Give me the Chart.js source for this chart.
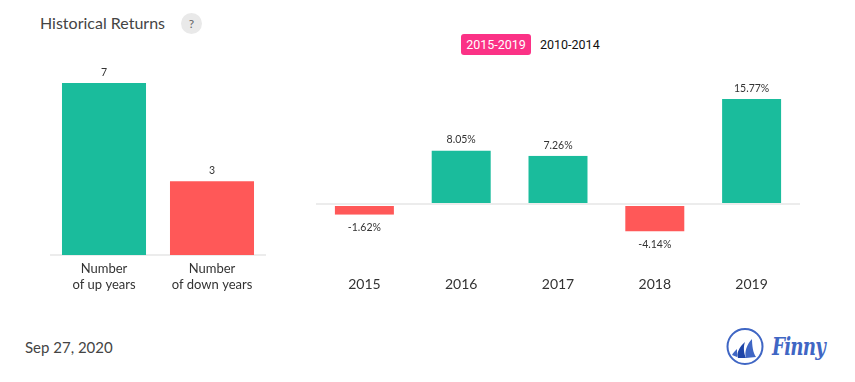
<!DOCTYPE html>
<html>
<head>
<meta charset="utf-8">
<script src="https://cdn.jsdelivr.net/npm/chart.js@4"></script>
<style>
  html, body { margin: 0; padding: 0; background: #fff; }
  body { width: 855px; height: 382px; position: relative; overflow: hidden; font-family: Lato, sans-serif; }
  .abs { position: absolute; white-space: nowrap; }
  canvas { position: absolute; }
  #title { left: 40px; top: 13px; font-size: 16px; line-height: 20px; color: #444; }
  #help { left: 181px; top: 13px; width: 21px; height: 21px; border-radius: 50%; background: #e9e9e9; color: #666; font-size: 12px; line-height: 21px; text-align: center; }
  #range-on { left: 461px; top: 34px; width: 70px; height: 21px; border-radius: 3px; background: #fb3286; color: #fff; font: 12.5px/21px Roboto, sans-serif; text-align: center; }
  #range-off { left: 540px; top: 34px; color: #111; font: 12.5px/21px Roboto, sans-serif; }
  #date { left: 25px; top: 337px; font-size: 15px; line-height: 20px; color: #444; }
  #brand { left: 772px; top: 331px; font: italic bold 24px/32px "DejaVu Serif", serif; letter-spacing: -1px; color: #3f66c4; transform: scaleX(0.76); transform-origin: left center; }
</style>
</head>
<body>
<div class="abs" id="title">Historical Returns</div>
<div class="abs" id="help">?</div>
<div class="abs" id="range-on">2015-2019</div>
<div class="abs" id="range-off">2010-2014</div>
<canvas id="count-chart" width="216" height="240" style="left:50px;top:60px;width:216px;height:240px"></canvas>
<canvas id="returns-chart" width="484" height="240" style="left:316px;top:60px;width:484px;height:240px"></canvas>
<div class="abs" id="date">Sep 27, 2020</div>
<svg class="abs" style="left:726px;top:327px" width="40" height="40" viewBox="0 0 40 40">
  <circle cx="19" cy="19.5" r="17.5" fill="none" stroke="#3f66c4" stroke-width="2"/>
  <path d="M6 28 C7 26 9 24 11 22 L11 30 Z" fill="#3f66c4"/>
  <path d="M12 31 C10 27 13 20 19 15 C17 20 18 27 20 31 Z" fill="#1f45a8"/>
  <path d="M20 31 C18 25 21 17 26 12 C26 18 27 26 30 30 Z" fill="#3f66c4"/>
</svg>
<div class="abs" id="brand">Finny</div>

<script>
const countLabels = [['Number', 'of up years'], ['Number', 'of down years']];
const countValues = [7, 3];
const years = ['2015', '2016', '2017', '2018', '2019'];
const returnValues = [-1.62, 8.05, 7.26, -4.14, 15.77];

const GREEN = '#1abc9c';
const RED = '#ff5858';

const barColors = function (values) {
  return values.map(function (v) {
    return v < 0 ? RED : GREEN;
  });
};

// Writes the value over each bar, or under it when negative
const valueLabelPlugin = {
  id: 'valueLabels',
  afterDatasetsDraw: function (chart) {
    const ctx = chart.ctx;
    const ds = chart.data.datasets[0];
    const meta = chart.getDatasetMeta(0);
    const suffix = chart.options.plugins.valueLabels.suffix;
    ctx.save();
    ctx.font = '10.5px Lato, sans-serif';
    ctx.fillStyle = '#333';
    ctx.textAlign = 'center';
    ctx.textBaseline = 'middle';
    meta.data.forEach(function (bar, i) {
      const v = ds.data[i];
      const y = v < 0 ? bar.y + 13 : bar.y - 10.5;
      ctx.fillText(v + suffix, bar.x, y);
    });
    ctx.restore();
  }
};

new Chart(document.getElementById('count-chart').getContext('2d'), {
  type: 'bar',
  data: {
    labels: countLabels,
    datasets: [{
      data: countValues,
      backgroundColor: [GREEN, RED],
      categoryPercentage: 1,
      barPercentage: 0.778,
    }],
  },
  options: {
    responsive: false,
    animation: false,
    layout: { padding: 0 },
    plugins: { legend: { display: false }, tooltip: { enabled: false }, valueLabels: { suffix: '' } },
    scales: {
      x: {
        grid: { display: false, drawTicks: false },
        border: { color: '#ececec', width: 2 },
        ticks: { padding: 6, color: '#333', font: { family: 'Lato', size: 13, lineHeight: 1.23 }, maxRotation: 0, autoSkip: false },
        afterFit: function (scale) { scale.height = 45; },
      },
      y: { display: false, min: 0, max: 7.94 },
    },
  },
  plugins: [valueLabelPlugin],
});

new Chart(document.getElementById('returns-chart').getContext('2d'), {
  type: 'bar',
  data: {
    labels: years,
    datasets: [{
      data: returnValues,
      backgroundColor: barColors(returnValues),
      borderColor: '#fff',
      // white sides cut the zero line; only the red bars keep a gap on top
      borderWidth: function (c) {
        return { left: 1, right: 1, top: c.raw < 0 ? 1 : 0, bottom: 0 };
      },
      borderSkipped: false,
      categoryPercentage: 1,
      barPercentage: 0.63,
    }],
  },
  options: {
    responsive: false,
    animation: false,
    layout: { padding: 0 },
    plugins: { legend: { display: false }, tooltip: { enabled: false }, valueLabels: { suffix: '%' } },
    scales: {
      x: {
        grid: { display: false, drawTicks: false },
        border: { display: false },
        ticks: { padding: 6, color: '#333', font: { family: 'Lato', size: 14 }, maxRotation: 0 },
        afterFit: function (scale) { scale.height = 30; },
      },
      y: {
        min: -9.91,
        max: 21.62,
        border: { display: false },
        ticks: { display: false, stepSize: 50 },
        grid: {
          drawTicks: false,
          lineWidth: 2,
          color: function (c) { return c.tick && c.tick.value === 0 ? '#ececec' : 'transparent'; },
        },
      },
    },
  },
  plugins: [valueLabelPlugin],
});
</script>
</body>
</html>
